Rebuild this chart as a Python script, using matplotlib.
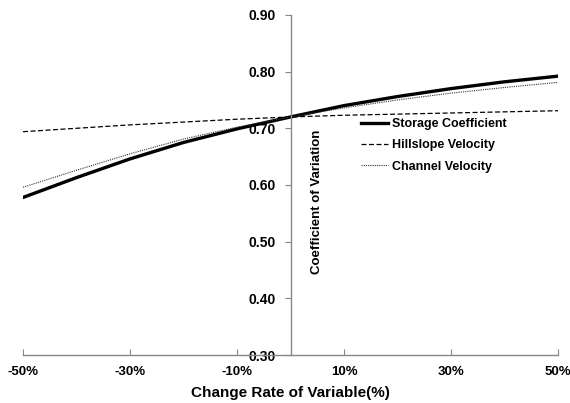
import numpy as np
import matplotlib
matplotlib.use("Agg")
import matplotlib.pyplot as plt

plt.rcParams['font.family'] = ['Liberation Sans', 'DejaVu Sans']
plt.rcParams['font.weight'] = 'bold'

# change rate of each variable (%)
change_rate = [-50, -40, -30, -20, -10, 0, 10, 20, 30, 40, 50]
storage_coef = [0.578, 0.613, 0.646, 0.675, 0.699, 0.720, 0.740, 0.756, 0.770, 0.782, 0.792]
hillslope_vel = [0.694, 0.700, 0.706, 0.711, 0.716, 0.720, 0.723, 0.725, 0.727, 0.729, 0.731]
channel_vel = [0.596, 0.626, 0.655, 0.681, 0.702, 0.720, 0.736, 0.750, 0.762, 0.772, 0.781]

xticks = [-50, -30, -10, 10, 30, 50]
xtick_labels = ['-50%', '-30%', '-10%', '10%', '30%', '50%']
yticks = [0.30, 0.40, 0.50, 0.60, 0.70, 0.80, 0.90]

fig = plt.figure(figsize=(5.7, 4.03), dpi=100)
ax = fig.add_axes([0.0404, 0.119, 0.9386, 0.844])

ax.plot(change_rate, storage_coef, color='black', lw=2.4, label='Storage Coefficient')
ax.plot(change_rate, hillslope_vel, color='black', lw=0.9, dashes=(4, 2), label='Hillslope Velocity')
ax.plot(change_rate, channel_vel, color='#333333', lw=0.8, dashes=(1, 1), label='Channel Velocity')

ax.set_xlim(-50, 50)
ax.set_ylim(0.30, 0.90)

for s in ['top', 'right']:
    ax.spines[s].set_visible(False)
ax.spines['left'].set_position(('data', 0))
for s in ['left', 'bottom']:
    ax.spines[s].set_color('#868686')
    ax.spines[s].set_linewidth(1.0)

ax.set_xticks(xticks)
ax.set_xticklabels(xtick_labels)
ax.set_yticks(yticks)
ax.set_yticklabels(['%.2f' % v for v in yticks])
ax.tick_params(axis='x', direction='in', length=4, color='#868686', labelsize=9.5, pad=8)
ax.tick_params(axis='y', direction='out', length=4, color='#868686', labelsize=10, pad=7)
for lab in ax.get_xticklabels() + ax.get_yticklabels():
    lab.set_fontweight('bold')

ax.set_xlabel('Change Rate of Variable(%)', fontsize=11, fontweight='bold', labelpad=6)
ax.text(4.9, 0.57, 'Coefficient of Variation', rotation=90, fontsize=9.5,
        fontweight='bold', ha='center', va='center')

leg = ax.legend(loc='upper left', bbox_to_anchor=(0.61, 0.73), frameon=False,
                fontsize=9, handlelength=2.2, handletextpad=0.3, labelspacing=0.75)
for t in leg.get_texts():
    t.set_fontweight('bold')

fig.savefig('out.png', dpi=100)
